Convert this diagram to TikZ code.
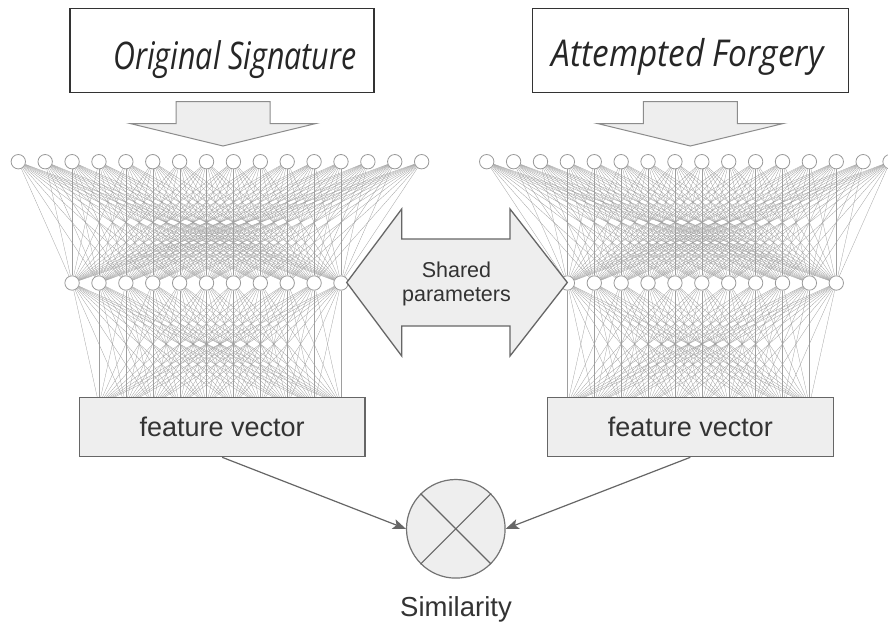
\documentclass[tikz,border=0pt]{standalone}
\usepackage{fontspec}
\setmainfont{Liberation Sans}
\newfontfamily\handfont{Open Sans}
\usetikzlibrary{arrows.meta}

\definecolor{panel}{HTML}{EEEEEE}
\definecolor{edge}{HTML}{666666}
\definecolor{ink}{HTML}{333333}
\definecolor{wirec}{HTML}{9E9E9E}

\pgfdeclarelayer{bg}
\pgfdeclarelayer{wires}
\pgfsetlayers{bg,wires,main}

\tikzset{
  neuron/.style={circle, draw=black!40, fill=white, line width=0.8pt,
                 minimum size=14.4pt, inner sep=0pt},
  wire/.style={draw=wirec, line width=0.28pt},
  fvbox/.style={rectangle, draw=edge, fill=panel, line width=1.2pt,
                minimum width=285.7pt, minimum height=59.4pt, inner sep=0pt,
                text=ink, font=\fontsize{27}{32}\selectfont},
  inbox/.style={rectangle, draw=ink, fill=white, line width=1.5pt,
                minimum height=84.4pt, inner sep=0pt},
  hand/.style={inner sep=0pt, text=black!85},
  downarrow/.style={fill=panel, draw=black!45, line width=1pt, line join=miter},
  sharedarrow/.style={fill=panel, draw=edge, line width=1.3pt, line join=miter},
  conn/.style={draw=edge, line width=1.2pt,
               -{Stealth[length=13pt,width=10pt,inset=3pt]}},
  lbl/.style={inner sep=0pt, text=ink}
}

\begin{document}
\begin{tikzpicture}[x=1pt,y=-1pt]
\clip (0,0) rectangle (888,624);
\begin{pgfonlayer}{bg}
  \fill[white] (0,0) rectangle (888,624);
\end{pgfonlayer}

% ---------- input boxes ----------
\node[inbox, minimum width=304pt] (sigbox) at (222,50.5) {};
\node[hand] (sigtxt) at (235,59.5)
  {\resizebox*{243pt}{38pt}{\handfont\itshape Original Signature}};
\node[inbox, minimum width=316pt] (forgbox) at (690.3,50.5) {};
\node[hand] (forgtxt) at (687.5,57)
  {\resizebox*{271.6pt}{37pt}{\handfont\itshape Attempted Forgery}};

% ---------- block arrows into the networks ----------
\foreach \cx in {223,690.3}{
  \filldraw[downarrow]
    (\cx-47,101.7) -- (\cx+47,101.7) -- (\cx+47,123.5) -- (\cx+93,123.5)
    -- (\cx,146) -- (\cx-93,123.5) -- (\cx-47,123.5) -- cycle;
}

% ---------- left network ----------
\foreach \i in {0,...,15}
  \node[neuron] (LA\i) at ({18.3+26.89*\i},161.7) {};
\foreach \i in {0,...,10}
  \node[neuron] (LB\i) at ({18.3+26.89*(\i+2)},283) {};
\foreach \i in {0,...,9}
  \coordinate (LC\i) at ({18.3+26.89*(\i+3)},405);

% ---------- right network ----------
\foreach \i in {0,...,15}
  \node[neuron] (RA\i) at ({486.7+26.89*\i},161.7) {};
\foreach \i in {0,...,10}
  \node[neuron] (RB\i) at ({486.7+26.89*(\i+3)},283) {};
\foreach \i in {0,...,9}
  \coordinate (RC\i) at ({486.7+26.89*(\i+3)},405);

% ---------- dense connections, kept under the neurons ----------
\begin{pgfonlayer}{wires}
  \foreach \i in {0,...,15}
    \foreach \j in {0,...,10}{
      \draw[wire] (LA\i) -- (LB\j);
      \draw[wire] (RA\i) -- (RB\j);
    }
  \foreach \i in {0,...,10}
    \foreach \j in {0,...,9}{
      \draw[wire] (LB\i) -- (LC\j);
      \draw[wire] (RB\i) -- (RC\j);
    }
\end{pgfonlayer}

% ---------- shared-parameter double arrow ----------
\filldraw[sharedarrow]
  (346.7,282.5) -- (401.7,209) -- (401.7,239) -- (510,239) -- (510,209)
  -- (567.3,282.5) -- (510,356) -- (510,326) -- (401.7,326) -- (401.7,356)
  -- cycle;
\node[lbl, align=center, font=\fontsize{21.5}{24.5}\selectfont]
  (shared) at (456.5,284) {Shared\\parameters};

% ---------- feature vectors ----------
\node[fvbox] (fvL) at (222.2,427) {feature vector};
\node[fvbox] (fvR) at (690.3,427) {feature vector};

% ---------- similarity ----------
\node[circle, draw=black!55, fill=panel, line width=1.2pt,
      minimum size=98.6pt, inner sep=0pt] (sim) at (455.8,528.8) {};
\draw[black!60, line width=1.2pt] (sim.45) -- (sim.225);
\draw[black!60, line width=1.2pt] (sim.135) -- (sim.-45);
\draw[conn] (fvL.south) -- (sim.west);
\draw[conn] (fvR.south) -- (sim.east);
\node[lbl, anchor=base, font=\fontsize{27.5}{32}\selectfont]
  (simlbl) at (456,616.7) {Similarity};
\end{tikzpicture}
\end{document}
